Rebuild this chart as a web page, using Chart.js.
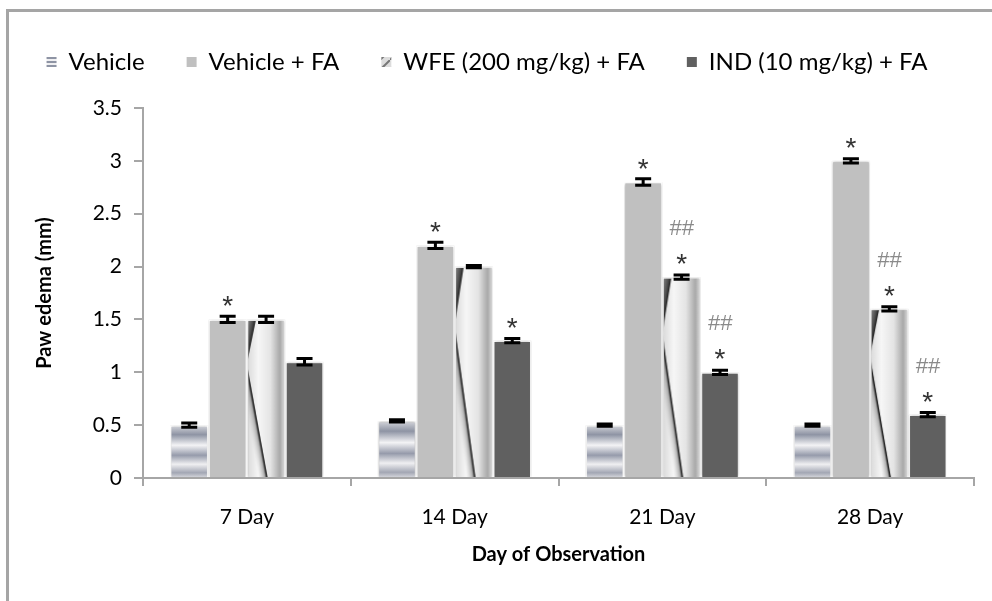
<!DOCTYPE html>
<html>
<head>
<meta charset="utf-8">
<script src="https://cdn.jsdelivr.net/npm/chart.js@4.4.0/dist/chart.umd.min.js"></script>
<style>
  html, body { margin: 0; padding: 0; background: #fff; overflow: hidden; }
  #frame { position: absolute; left: 6px; top: 9px; width: 1100px; height: 700px; border: 3px solid #a5a5a5; }
  #wrap { position: absolute; left: 0; top: 0; width: 992px; height: 601px; }
</style>
</head>
<body>
<div id="frame"></div>
<div id="wrap"><canvas id="chartCanvas" width="992" height="601"></canvas></div>
<script>
// chart values
const categories = ['7 Day', '14 Day', '21 Day', '28 Day'];
const yTicks = [0, 0.5, 1, 1.5, 2, 2.5, 3, 3.5];
const yTickLabels = ['0', '0.5', '1', '1.5', '2', '2.5', '3', '3.5'];

const vehicle = [0.5, 0.54, 0.5, 0.5];
const vehicleErr = [0.02, 0.01, 0.01, 0.01];
const vehicleFA = [1.5, 2.2, 2.8, 3.0];
const vehicleFAErr = [0.03, 0.03, 0.03, 0.02];
const wfe = [1.5, 2.0, 1.9, 1.6];
const wfeErr = [0.03, 0.01, 0.02, 0.02];
const ind = [1.1, 1.3, 1.0, 0.6];
const indErr = [0.03, 0.02, 0.02, 0.02];

// significance marks: * vs vehicle, ## vs vehicle + FA
const vehicleStar = [0, 0, 0, 0];
const vehicleFAStar = [1, 1, 1, 1];
const wfeStar = [0, 0, 1, 1];
const indStar = [0, 1, 1, 1];
const wfeHash = [0, 0, 1, 1];
const indHash = [0, 0, 1, 1];

const FONT = 'Lato, "Liberation Sans", sans-serif';
const CAT_PCT = 0.74;

// works out where a bar sits, using the chart's own scales
function barBox(ctx) {
    const chart = ctx.chart;
    const xs = chart.scales.x, ys = chart.scales.y;
    const n = chart.data.datasets.length;
    const groupW = (xs.width / categories.length) * CAT_PCT;
    const bw = groupW / n;
    const cx = xs.getPixelForValue(ctx.dataIndex);
    const left = cx - groupW / 2 + ctx.datasetIndex * bw;
    const top = ys.getPixelForValue(ctx.raw);
    const bottom = ys.getPixelForValue(0);
    return { left: left, top: top, w: bw, h: bottom - top };
}

// horizontal blue-grey bands
function vehicleFill(ctx) {
    if (ctx.type !== 'data' || !ctx.chart.chartArea) return '#a9adb9';
    const b = barBox(ctx);
    const g = ctx.chart.ctx.createLinearGradient(0, b.top, 0, b.top + b.h);
    g.addColorStop(0, '#d6d7dc');
    g.addColorStop(0.18, '#8e94a4');
    g.addColorStop(0.38, '#f3f3f5');
    g.addColorStop(0.57, '#969bab');
    g.addColorStop(0.74, '#efeff1');
    g.addColorStop(0.9, '#a3a7b4');
    g.addColorStop(1, '#dadbe0');
    return g;
}

// chrome-like diagonal texture, drawn once per bar
function wfeFill(ctx) {
    if (ctx.type !== 'data' || !ctx.chart.chartArea) return '#b8b8b8';
    const b = barBox(ctx);
    const w = Math.max(2, Math.round(b.w)), h = Math.max(2, Math.round(b.h));
    const c = document.createElement('canvas');
    c.width = w; c.height = h;
    const g = c.getContext('2d');

    const base = g.createLinearGradient(0, 0, w, 0);
    base.addColorStop(0, '#d8d8d8');
    base.addColorStop(0.3, '#f6f6f6');
    base.addColorStop(0.62, '#e4e4e4');
    base.addColorStop(0.87, '#a8a8a8');
    base.addColorStop(1, '#dedede');
    g.fillStyle = base;
    g.fillRect(0, 0, w, h);

    // thin dark stripe running down to the right, shaded on its left side
    const p0 = [0, 0.28 * h], p1 = [0.55 * w, h];
    let nx = p1[1] - p0[1], ny = -(p1[0] - p0[0]);
    const len = Math.hypot(nx, ny); nx /= len; ny /= len;
    const sg = g.createLinearGradient(p1[0], p1[1], p1[0] - nx * 9, p1[1] - ny * 9);
    sg.addColorStop(0, 'rgba(10,10,10,1)');
    sg.addColorStop(0.12, 'rgba(30,30,30,0.9)');
    sg.addColorStop(0.3, 'rgba(120,120,120,0.55)');
    sg.addColorStop(1, 'rgba(200,200,200,0)');
    g.fillStyle = sg;
    g.beginPath();
    g.moveTo(p0[0], p0[1]); g.lineTo(p1[0], p1[1]); g.lineTo(0, h); g.closePath();
    g.fill();

    // dark wedge in the top left corner
    const q0 = [0.24 * w, 0], q1 = [0, 0.28 * h];
    let mx = -(q1[1] - q0[1]), my = q1[0] - q0[0];
    const ml = Math.hypot(mx, my); mx /= ml; my /= ml;
    const wg = g.createLinearGradient(q0[0], q0[1], q0[0] + mx * 9, q0[1] + my * 9);
    wg.addColorStop(0, '#1e1e1e');
    wg.addColorStop(0.3, '#4c4c4c');
    wg.addColorStop(1, '#909090');
    g.fillStyle = wg;
    g.beginPath();
    g.moveTo(0, 0); g.lineTo(q0[0], q0[1]); g.lineTo(q1[0], q1[1]); g.closePath();
    g.fill();

    const pat = ctx.chart.ctx.createPattern(c, 'no-repeat');
    pat.setTransform(new DOMMatrix([1, 0, 0, 1, b.left, b.top]));
    return pat;
}

// small repeating tiles for the legend keys
function tile(w, h, paint) {
    const c = document.createElement('canvas');
    c.width = w; c.height = h;
    paint(c.getContext('2d'));
    return document.createElement('canvas').getContext('2d').createPattern(c, 'repeat');
}
const legendVehicle = tile(1, 4, (g) => {
    g.fillStyle = '#f0f0f2'; g.fillRect(0, 0, 1, 4);
    g.fillStyle = '#8e94a4'; g.fillRect(0, 1, 1, 2);
});
const legendWfe = tile(10, 10, (g) => {
    g.fillStyle = '#dcdcdc'; g.fillRect(0, 0, 10, 10);
    g.strokeStyle = '#777'; g.lineWidth = 2;
    g.beginPath(); g.moveTo(0, 10); g.lineTo(10, 0); g.stroke();
});
const legendFills = [legendVehicle, '#c0c0c0', legendWfe, '#606060'];

const series = [
    { values: vehicle, errors: vehicleErr, stars: vehicleStar, hashes: [0, 0, 0, 0] },
    { values: vehicleFA, errors: vehicleFAErr, stars: vehicleFAStar, hashes: [0, 0, 0, 0] },
    { values: wfe, errors: wfeErr, stars: wfeStar, hashes: wfeHash },
    { values: ind, errors: indErr, stars: indStar, hashes: indHash }
];

// error bars, asterisks and hashes on top of the bars
const marksPlugin = {
    id: 'marks',
    beforeInit(chart) {
        const lg = chart.legend;
        const fit = lg.fit;
        lg.fit = function () { fit.call(this); this.height = 100; };
    },
    beforeDatasetsDraw(chart) {
        const c = chart.ctx;
        c.save();
        c.shadowColor = 'rgba(0,0,0,0.28)';
        c.shadowBlur = 3;
    },
    afterDatasetsDraw(chart) {
        const c = chart.ctx;
        c.restore();
        const ys = chart.scales.y;
        series.forEach((s, di) => {
            chart.getDatasetMeta(di).data.forEach((bar, i) => {
                const v = s.values[i], e = s.errors[i];
                const yt = ys.getPixelForValue(v + e);
                const yb = ys.getPixelForValue(v - e);
                c.save();
                c.strokeStyle = '#000';
                c.lineWidth = 3;
                c.beginPath();
                c.moveTo(bar.x - 8, yt); c.lineTo(bar.x + 8, yt);
                c.moveTo(bar.x - 8, yb); c.lineTo(bar.x + 8, yb);
                c.moveTo(bar.x, yt); c.lineTo(bar.x, yb);
                c.stroke();
                c.textAlign = 'center';
                c.textBaseline = 'alphabetic';
                const top = ys.getPixelForValue(v);
                if (s.stars[i]) {
                    c.fillStyle = '#333';
                    c.font = '28px "Liberation Sans", sans-serif';
                    c.fillText('*', bar.x, top - 4);
                }
                if (s.hashes[i]) {
                    c.fillStyle = '#8a8a8a';
                    c.font = 'italic 22px "Liberation Sans", sans-serif';
                    c.fillText('##', bar.x, top - 42);
                }
                c.restore();
            });
        });
    }
};

const ctx = document.getElementById('chartCanvas');
const barStyle = { borderColor: '#ffffff', borderWidth: 1.5, barPercentage: 1, categoryPercentage: CAT_PCT };

window.myChart = new Chart(ctx, {
    type: 'bar',
    data: {
        labels: categories,
        datasets: [
            Object.assign({ label: 'Vehicle', data: vehicle, backgroundColor: vehicleFill }, barStyle),
            Object.assign({ label: 'Vehicle + FA', data: vehicleFA, backgroundColor: '#c0c0c0' }, barStyle),
            Object.assign({ label: 'WFE (200 mg/kg) + FA', data: wfe, backgroundColor: wfeFill }, barStyle),
            Object.assign({ label: 'IND (10 mg/kg) + FA', data: ind, backgroundColor: '#606060' }, barStyle)
        ]
    },
    options: {
        responsive: false,
        devicePixelRatio: 1,
        animation: false,
        layout: { padding: { top: 8, left: 0, right: 18, bottom: 30 } },
        plugins: {
            tooltip: { enabled: false },
            legend: {
                position: 'top',
                labels: {
                    boxWidth: 10,
                    boxHeight: 10,
                    padding: 42,
                    color: '#000',
                    font: { family: FONT, size: 24 },
                    generateLabels(chart) {
                        return chart.data.datasets.map((ds, i) => ({
                            text: ds.label,
                            fillStyle: legendFills[i],
                            strokeStyle: 'rgba(0,0,0,0)',
                            lineWidth: 0,
                            hidden: false,
                            datasetIndex: i
                        }));
                    }
                }
            }
        },
        scales: {
            x: {
                grid: { display: true, drawOnChartArea: false, drawTicks: true, tickLength: 8, color: '#a6a6a6', lineWidth: 2, offset: true },
                border: { display: true, color: '#a6a6a6', width: 2 },
                ticks: { color: '#000', font: { family: FONT, size: 21 }, padding: 19 },
                title: { display: true, text: 'Day of Observation', color: '#000', font: { family: FONT, size: 20, weight: 'bold' }, padding: { top: 4, bottom: 4 } },
                afterFit(scale) { scale.height = 93; }
            },
            y: {
                min: 0,
                max: 3.5,
                afterBuildTicks(scale) { scale.ticks = yTicks.map((v) => ({ value: v })); },
                grid: { display: true, drawOnChartArea: false, drawTicks: true, tickLength: 9, color: '#a6a6a6', lineWidth: 2 },
                border: { display: true, color: '#a6a6a6', width: 2 },
                ticks: { color: '#000', font: { family: FONT, size: 21 }, padding: 12, callback: (v, i) => yTickLabels[i] },
                title: { display: true, text: 'Paw edema (mm)', color: '#000', font: { family: FONT, size: 20, weight: 'bold' }, padding: { top: 33, bottom: 4 } },
                afterFit(scale) { scale.width = 143; }
            }
        }
    },
    plugins: [marksPlugin]
});
</script>
</body>
</html>
